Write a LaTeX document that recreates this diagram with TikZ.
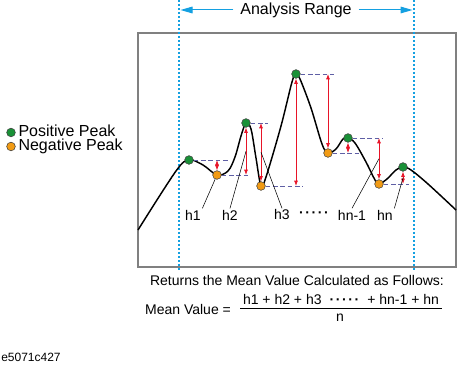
\documentclass[tikz,border=0pt]{standalone}
\usepackage{fontspec}
\setmainfont{Liberation Sans}
\usepackage{tikz}
\usetikzlibrary{arrows.meta, positioning}

\definecolor{peakgreen}{RGB}{25,145,55}
\definecolor{peakorange}{RGB}{242,155,20}
\definecolor{rangeblue}{RGB}{20,160,225}
\definecolor{levelblue}{RGB}{95,95,165}
\definecolor{heightred}{RGB}{232,20,40}
\newcommand\peakdots{\textbf{·\kern1.2pt·\kern1.2pt·\kern1.2pt·\kern1.2pt·}}

\begin{document}
\begin{tikzpicture}[x=0.75pt, y=-0.75pt, font=\fontsize{10.5}{12}\selectfont]
      \tikzstyle{pos peak}=[circle, draw=black!75, fill=peakgreen, inner sep=0pt, minimum size=6.5pt]
      \tikzstyle{neg peak}=[circle, draw=black!75, fill=peakorange, inner sep=0pt, minimum size=6.5pt]
      \tikzstyle{level line}=[levelblue, line width=0.6pt, dash pattern=on 3.5pt off 2pt]
      \tikzstyle{height arrow}=[heightred, line width=0.6pt, {Latex[length=4pt,width=3pt]}-{Latex[length=4pt,width=3pt]}]
      \tikzstyle{range line}=[rangeblue, line width=0.9pt, dash pattern=on 1.5pt off 1.5pt]
      \tikzstyle{range arrow}=[rangeblue, line width=0.75pt, -{Triangle[length=9pt,width=5pt]}]
      \tikzstyle{leader}=[black, line width=0.4pt]
      \tikzstyle{hlabel}=[inner sep=1pt]
      \tikzstyle{legend text}=[inner sep=0pt, text height=7.5pt, text depth=2pt, font=\fontsize{12}{14}\selectfont]
      \useasboundingbox (0,0) rectangle (458,366);

      \draw [gray, line width=0.8pt] (138,33) rectangle (456,267);
      \draw [range line] (179,0) -- (179,270);
      \draw [range line] (414,0) -- (414,270);
      \node [inner sep=5pt, font=\fontsize{12}{14}\selectfont] (range) at (296,10) {Analysis Range};
      \coordinate (range left) at (180.5,10);
      \coordinate (range right) at (412.5,10);
      \draw [range arrow] (range.west) -- (range left);
      \draw [range arrow] (range.east) -- (range right);

      \draw [line width=1.1pt] plot [smooth, tension=0.55] coordinates {
        (138,230) (176,171) (189,160) (203,165) (217,175) (228,171) (235,157) (241,136)
        (246,123) (251,129) (256,158) (261,186) (266,177) (281,126) (292,82) (296,74)
        (300,79) (311,108) (322,144) (328,153) (336,149) (343,139) (348,138) (355,143)
        (366,162) (375,180) (379,184) (387,179) (396,170) (403,167) (411,170) (428,184) (456,210)};

      \node [pos peak] (p1) at (189,160) {};
      \node [neg peak] (n1) at (217,175) {};
      \node [pos peak] (p2) at (246,123) {};
      \node [neg peak] (n2) at (261,186) {};
      \node [pos peak] (p3) at (296,74) {};
      \node [neg peak] (n3) at (328,153) {};
      \node [pos peak] (p4) at (348,138) {};
      \node [neg peak] (n4) at (379,184) {};
      \node [pos peak] (p5) at (403,167) {};

      \draw [level line] (p1.east) -- ++(34,0);
      \draw [level line] (n1.east) -- ++(29,0);
      \draw [level line] (p2.east) -- ++(17,0);
      \draw [level line] (n2.east) -- ++(37,0);
      \draw [level line] (p3.east) -- ++(33,0);
      \draw [level line] (n3.east) -- ++(28,0);
      \draw [level line] (p4.east) -- ++(30,0);
      \draw [level line] (n4.east) -- ++(25,0);

      \draw [height arrow] (n1 |- p1) -- (n1);
      \draw [height arrow] (p2) -- coordinate [pos=0.5] (m2) (p2 |- n1);
      \draw [height arrow] (n2 |- p2) -- coordinate [pos=0.5] (m3) (n2);
      \draw [height arrow] (p3) -- (p3 |- n2);
      \draw [height arrow] (n3 |- p3) -- (n3);
      \draw [height arrow] (p4) -- (p4 |- n3);
      \draw [height arrow] (n4 |- p4) -- coordinate [pos=0.5] (m7) (n4);
      \draw [height arrow] (p5) -- coordinate [pos=0.5] (m8) (p5 |- n4);

      \node [hlabel] (h1) at (193,215) {h1};
      \node [hlabel] (h2) at (230,215) {h2};
      \node [hlabel] (h3) at (282,215) {h3};
      \node [hlabel] (hdots) at (314,215) {\peakdots};
      \node [hlabel] (hn1) at (352,215) {hn-1};
      \node [hlabel] (hn) at (385,215) {hn};
      \draw [leader] (h1.north east) -- (n1);
      \draw [leader] (h2.north) -- (m2);
      \draw [leader] (h3.north) -- (m3);
      \draw [leader] (hn1.north) -- (m7);
      \draw [leader] (hn.north east) -- (m8);

      \node [pos peak] (leg pos) at (11,132.5) {};
      \node [neg peak] (leg neg) at (11,146.5) {};
      \node [legend text, right=2pt of leg pos] (pos text) {Positive Peak};
      \node [legend text, right=2pt of leg neg] (neg text) {Negative Peak};

      \node (returns) at (297,281) {Returns the Mean Value Calculated as Follows:};
      \node [inner sep=2pt] (num) at (341,300) {h1 + h2 + h3\hspace{6pt}\peakdots\hspace{6pt}+ hn-1 + hn};
      \draw [line width=0.5pt] (num.south west) -- (num.south east);
      \node (den) at (340,318) {n};
      \node (mean) at (188,310) {Mean Value =};

      \node [anchor=west, inner sep=0pt, font=\fontsize{9}{11}\selectfont] (fig id) at (1,357) {e5071c427};
    \end{tikzpicture}
\end{document}
